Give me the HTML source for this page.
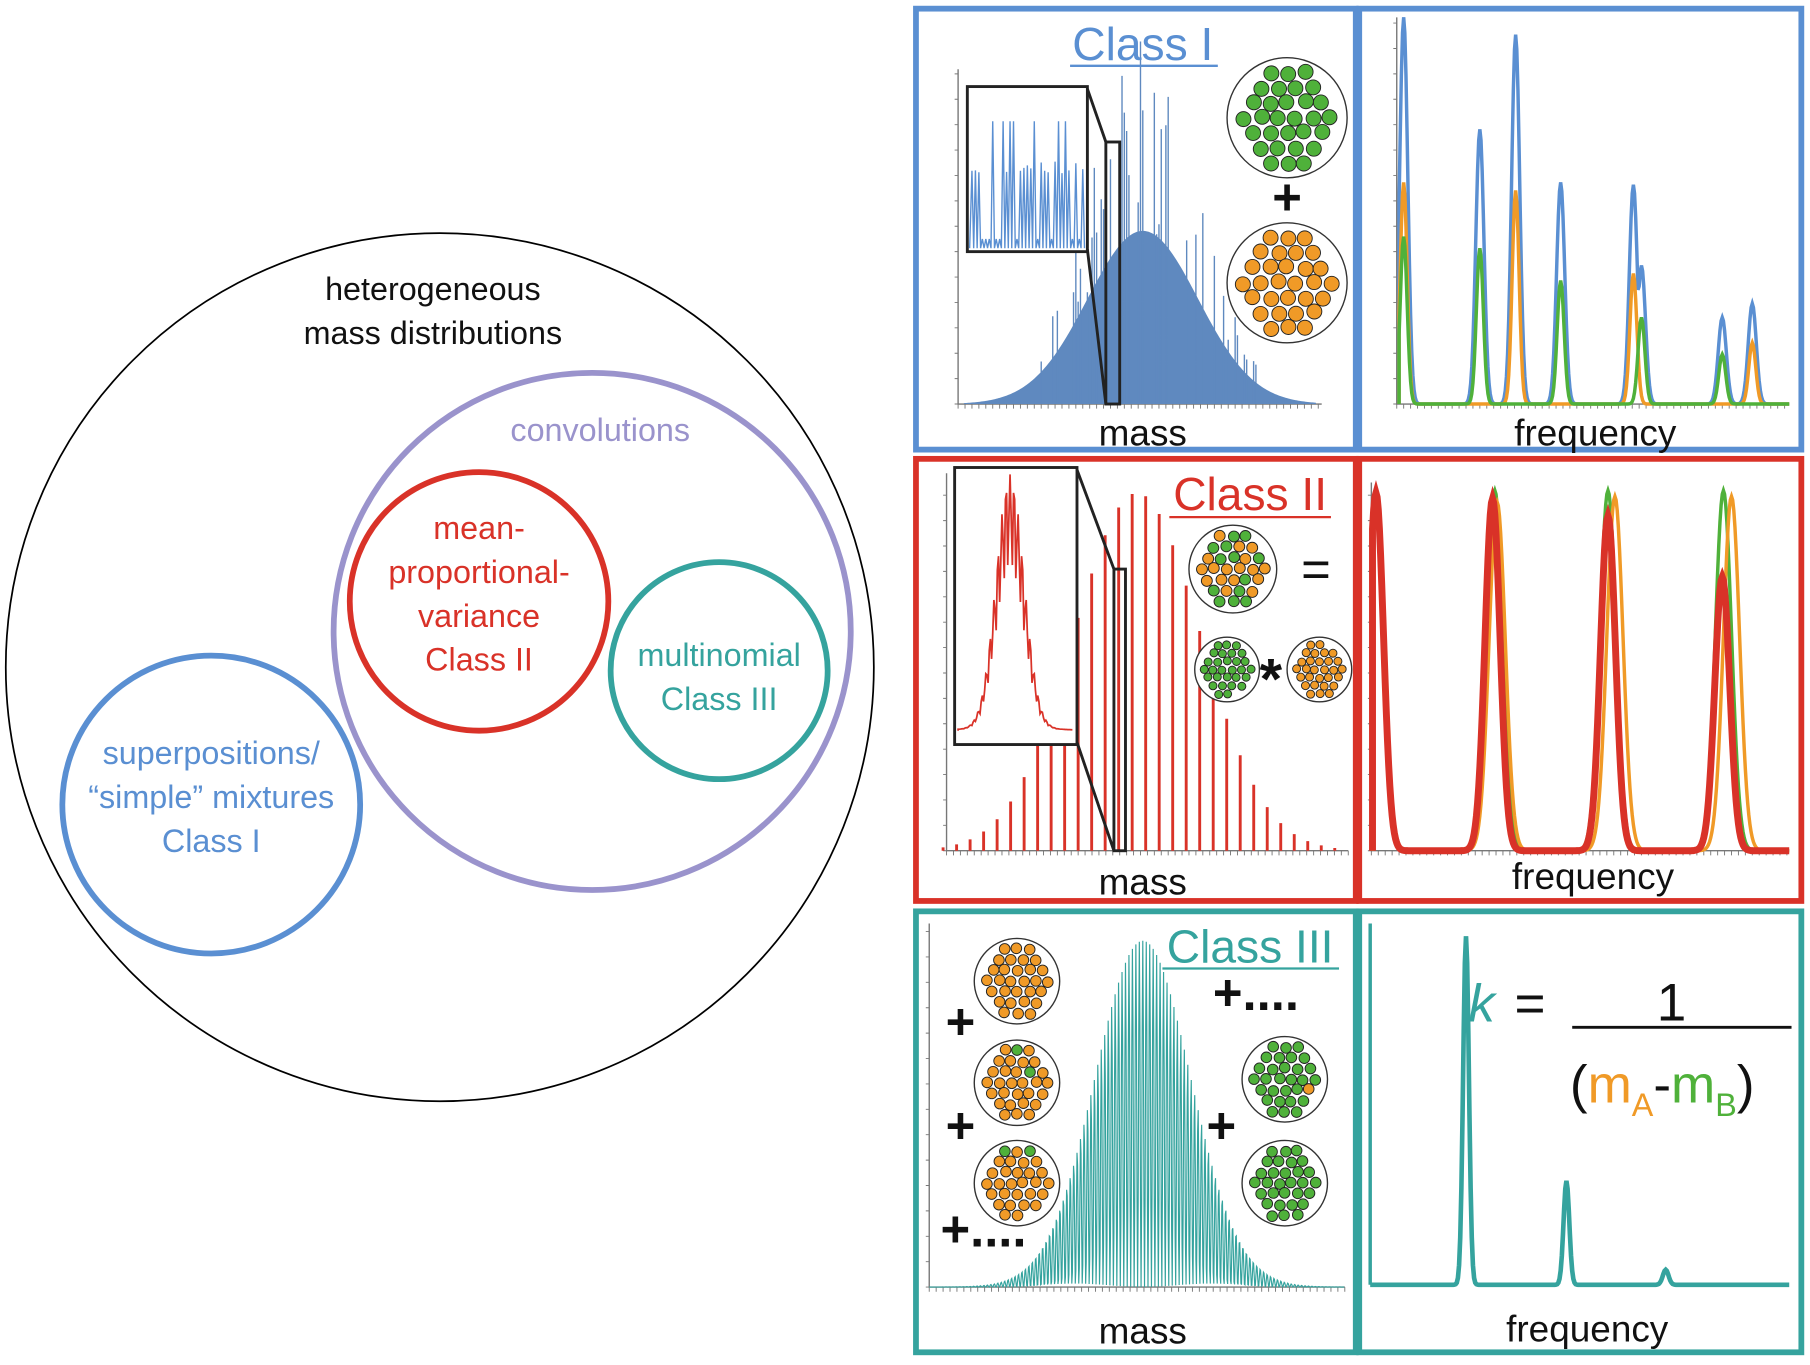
<!DOCTYPE html>
<html><head><meta charset="utf-8"><style>
html,body{margin:0;padding:0;background:#fff;}
svg{display:block;}
text{font-family:"Liberation Sans",Arial,sans-serif;}
</style></head><body>
<svg id="s" width="1810" height="1365" viewBox="0 0 1568 1182.5" xmlns="http://www.w3.org/2000/svg">
<rect width="1568" height="1183" fill="#fff"/>
<!-- Venn -->
<circle cx="381" cy="578" r="376" fill="none" stroke="#000" stroke-width="1.5"/>
<circle cx="513" cy="547" r="224" fill="none" stroke="#9a93cc" stroke-width="5"/>
<circle cx="415" cy="521" r="112" fill="none" stroke="#d93228" stroke-width="5"/>
<circle cx="623" cy="581" r="94" fill="none" stroke="#35a39e" stroke-width="5"/>
<circle cx="183" cy="697" r="129" fill="none" stroke="#5a8fd2" stroke-width="5"/>
<g font-size="28" text-anchor="middle">
<text x="375" y="260" fill="#111">heterogeneous</text>
<text x="375" y="298" fill="#111">mass distributions</text>
<text x="520" y="382" fill="#9a93cc">convolutions</text>
<text x="415" y="467" fill="#d93228">mean-</text>
<text x="415" y="505" fill="#d93228">proportional-</text>
<text x="415" y="543" fill="#d93228">variance</text>
<text x="415" y="581" fill="#d93228">Class II</text>
<text x="623" y="577" fill="#35a39e">multinomial</text>
<text x="623" y="615" fill="#35a39e">Class III</text>
<text x="183" y="662" fill="#5a8fd2">superpositions/</text>
<text x="183" y="700" fill="#5a8fd2">“simple” mixtures</text>
<text x="183" y="738" fill="#5a8fd2">Class I</text>
</g>
<!-- panel borders -->
<g fill="none" stroke-width="5">
<rect x="793.5" y="7.5" width="381" height="382" stroke="#5a8fd2"/>
<rect x="1177.5" y="7.5" width="383" height="382" stroke="#5a8fd2"/>
<rect x="793.5" y="397.5" width="381" height="383" stroke="#d93228"/>
<rect x="1177.5" y="397.5" width="383" height="383" stroke="#d93228"/>
<rect x="793.5" y="789.5" width="381" height="382" stroke="#35a39e"/>
<rect x="1177.5" y="789.5" width="383" height="382" stroke="#35a39e"/>
</g>
<g id="dyn"></g>
<g font-size="32" text-anchor="middle" fill="#111">
<text x="990" y="386">mass</text>
<text x="1382" y="386">frequency</text>
<text x="990" y="775">mass</text>
<text x="1380" y="770">frequency</text>
<text x="990" y="1164">mass</text>
<text x="1375" y="1162">frequency</text>
</g>
<g font-size="40" text-anchor="middle">
<text x="990" y="52" fill="#5a8fd2">Class I</text>
<line x1="927" y1="57" x2="1055" y2="57" stroke="#5a8fd2" stroke-width="2"/>
<text x="1083" y="442" fill="#d93228">Class II</text>
<line x1="1013" y1="448" x2="1153" y2="448" stroke="#d93228" stroke-width="2"/>
<text x="1083" y="834" fill="#35a39e">Class III</text>
<line x1="1007" y1="839" x2="1160" y2="839" stroke="#35a39e" stroke-width="2"/>
</g>
<g font-size="44" font-weight="bold" fill="#111" text-anchor="middle">
<text x="1115" y="186">+</text>
<text x="1140" y="508" font-weight="normal">=</text>
<text x="1101" y="605" font-size="50">*</text>
<text x="832" y="900">+</text>
<text x="832" y="990">+</text>
<text x="852" y="1080">+....</text>
<text x="1088" y="875">+....</text>
<text x="1058" y="990">+</text>
</g>
<g font-size="46">
<text x="1272" y="885" fill="#35a39e" font-style="italic">k</text>
<text x="1312" y="885" fill="#111">=</text>
<text x="1448" y="884" fill="#111" text-anchor="middle">1</text>
<line x1="1362" y1="890" x2="1552" y2="890" stroke="#111" stroke-width="2.5"/>
<text x="1360" y="955" fill="#111">(<tspan fill="#f09a27">m</tspan><tspan fill="#f09a27" font-size="28" dy="12">A</tspan><tspan dy="-12">-</tspan><tspan fill="#4fb13a">m</tspan><tspan fill="#4fb13a" font-size="28" dy="12">B</tspan><tspan dy="-12">)</tspan></text>
</g>
</svg>
<script>
var NS="http://www.w3.org/2000/svg",g=document.getElementById("dyn");
function el(t,a){var e=document.createElementNS(NS,t);for(var k in a)e.setAttribute(k,a[k]);g.appendChild(e);return e;}
var seed=7;function rnd(){seed=(seed*16807)%2147483647;return seed/2147483647;}
function gauss(x,m,s){return Math.exp(-(x-m)*(x-m)/(2*s*s));}
function axis(x0,x1,y,y0,col){el("path",{d:"M"+x0+" "+y0+"V"+y+"H"+x1,stroke:"#777","stroke-width":1.2,fill:"none"});
 var t="";for(var x=x0;x<=x1;x+=6)t+="M"+x+" "+y+"v4";el("path",{d:t,stroke:"#777","stroke-width":0.8});
 t="";for(var yy=y;yy>y0;yy-=22)t+="M"+(x0-3)+" "+yy+"h3";el("path",{d:t,stroke:"#777","stroke-width":0.8});}
// Class I mass
axis(830,1145,350,60);
var d="M835 350";for(var x=835;x<=1140;x+=1){var h=150*gauss(x,990,48);d+="L"+x+" "+(350-h);}d+="L1140 350Z";
el("path",{d:d,fill:"#5f89bf"});
d="";for(var x=900;x<1090;x+=2){var h=150*gauss(x,990,48)*(1+rnd()*1.1);if(rnd()<0.4)d+="M"+x+" 350V"+(350-h);}
el("path",{d:d,stroke:"#5f89bf","stroke-width":1.2});
el("rect",{x:838,y:75,width:104,height:143,fill:"#fff",stroke:"#222","stroke-width":2.5});
d="M840 215";for(var x=842;x<940;x+=3){var h=rnd()<0.12?110:(rnd()<0.6?65+rnd()*10:8);d+="L"+x+" "+(215-h)+"L"+(x+1.5)+" 215";}
el("path",{d:d,stroke:"#5a8fd2","stroke-width":1.2,fill:"none"});
el("rect",{x:958,y:123,width:12,height:227,fill:"none",stroke:"#222","stroke-width":2.5});
el("path",{d:"M942 77L958 123M942 216L958 350",stroke:"#222","stroke-width":2.5});
// particles
function particle(cx,cy,r,mix){el("circle",{cx:cx,cy:cy,r:r,fill:"#fff",stroke:"#333","stroke-width":1.2});
 var pr=r*0.125,st=pr*2.3;for(var yy=-r;yy<=r;yy+=st*0.87)for(var xx=-r;xx<=r;xx+=st){var ox=xx+((Math.round(yy/st*1.15)%2)?st/2:0)+(rnd()-0.5)*pr*0.4,oy=yy+(rnd()-0.5)*pr*0.4;
 if(ox*ox+oy*oy<(r-pr-1.5)*(r-pr-1.5)){var c=typeof mix=="number"?(rnd()<mix?"#4fb13a":"#f09a27"):mix;el("circle",{cx:cx+ox,cy:cy+oy,r:pr,fill:c,stroke:"#222","stroke-width":0.8});}}}
particle(1115,102,52,"#4fb13a");particle(1115,245,52,"#f09a27");
// frequency peaks
function peaks(list,col,w,sig,base,x0){x0=x0||1212;var d="M"+x0+" "+base;for(var x=x0;x<=1550;x+=1){var h=0;list.forEach(function(p){h=Math.max(h,p[1]*gauss(x,p[0],sig));});d+="L"+x+" "+(base-h).toFixed(1);}
 el("path",{d:d,stroke:col,"stroke-width":w,fill:"none"});}
axis(1210,1550,350,15);
peaks([[1216,335],[1282,238],[1313,320],[1352,192],[1415,190],[1422,120],[1492,75],[1518,87]],"#5a8fd2",3,3.5,350);
peaks([[1216,192],[1313,185],[1415,113],[1518,53]],"#f09a27",3,3,350);
peaks([[1216,145],[1282,135],[1352,107],[1422,75],[1492,43]],"#4fb13a",3,3,350);
// Class II mass
axis(820,1168,737,410);
d="";for(var x=817;x<1160;x+=11.7){var h=310*gauss(x,985,55);if(h>2)d+="M"+x.toFixed(1)+" 737V"+(737-h).toFixed(1);}
el("path",{d:d,stroke:"#d93228","stroke-width":2.5});
el("rect",{x:827,y:405,width:106,height:240,fill:"#fff",stroke:"#222","stroke-width":2.5});
d="M830 633";for(var x=830;x<930;x+=1){var h=220*gauss(x,875,12)*(0.55+0.45*Math.abs(Math.cos((x-875)*0.9)));d+="L"+x+" "+(633-h-2*gauss(x,875,40)).toFixed(1);}
el("path",{d:d,stroke:"#d93228","stroke-width":1.5,fill:"none"});
el("rect",{x:965,y:493,width:10,height:244,fill:"none",stroke:"#222","stroke-width":2.5});
el("path",{d:"M933 407L965 493M933 643L965 737",stroke:"#222","stroke-width":2.5});
particle(1068,493,38,0.55);particle(1063,580,28,"#4fb13a");particle(1143,580,28,"#f09a27");
// Class II freq
axis(1188,1550,737,418);
peaks([[1192,312],[1295,312],[1393,312],[1493,312]],"#4fb13a",3,7,737,1189);
peaks([[1192,310],[1297,302],[1399,307],[1500,307]],"#f09a27",3,7,737,1189);
peaks([[1192,310],[1293,305],[1393,290],[1492,237]],"#d93228",6,6.5,737,1189);
// Class III mass
axis(805,1165,1115,800);
d="M805 1115";for(var x=805;x<1165;x+=0.5){var e=300*gauss(x,990,42);var h=e*(0.5+0.5*Math.cos((x-990)*2.1));d+="L"+x+" "+(1115-h).toFixed(1);}
el("path",{d:d,stroke:"#35a39e","stroke-width":1,fill:"none"});
particle(881,850,37,0.0);particle(881,938,37,0.03);particle(881,1025,37,0.05);
particle(1113,935,37,0.97);particle(1113,1025,37,1);
// Class III freq
el("path",{d:"M1187 800V1113",stroke:"#35a39e","stroke-width":3});
peaks([[1270,302],[1357,90],[1443,13]],"#35a39e",4,2.5,1113,1187);
</script>
</body></html>
